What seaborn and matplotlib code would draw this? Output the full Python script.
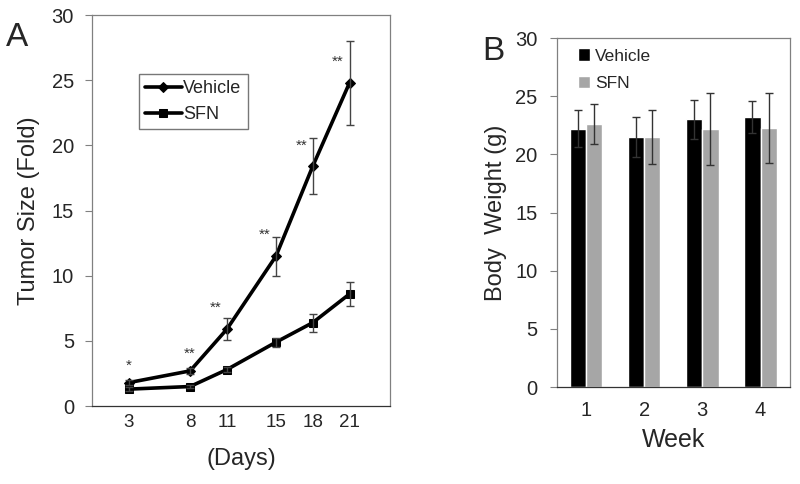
import numpy as np
import pandas as pd
import matplotlib
matplotlib.use("Agg")
import matplotlib.pyplot as plt
import seaborn as sns

# ------------------- Données -------------------
days = [3, 8, 11, 15, 18, 21]
vehicle_size = [1.8, 2.7, 5.9, 11.5, 18.4, 24.8]
vehicle_size_err = [0.2, 0.25, 0.85, 1.5, 2.15, 3.2]
sfn_size = [1.3, 1.5, 2.8, 4.9, 6.4, 8.6]
sfn_size_err = [0.15, 0.15, 0.2, 0.35, 0.7, 0.9]
stars = ["*", "**", "**", "**", "**", "**"]

weeks = ["1", "2", "3", "4"]
vehicle_weight = [22.2, 21.5, 23.0, 23.2]
vehicle_weight_err = [1.6, 1.75, 1.7, 1.4]
sfn_weight = [22.6, 21.5, 22.2, 22.3]
sfn_weight_err = [1.7, 2.3, 3.1, 3.0]

groups = ["Vehicle", "SFN"]

# ------------------- Style -------------------
sns.set_style("white")
plt.rcParams["font.family"] = ["Liberation Sans", "DejaVu Sans"]
frame_color = "#808080"

fig = plt.figure(figsize=(8, 4.84), dpi=100)
ax_a = fig.add_axes([0.115, 0.161, 0.3725, 0.808])
ax_b = fig.add_axes([0.696, 0.2004, 0.291, 0.721])

# ------------------- Panel A : taille des tumeurs -------------------
df_a = pd.DataFrame({
    "day": days * 2,
    "size": vehicle_size + sfn_size,
    "group": ["Vehicle"] * len(days) + ["SFN"] * len(days),
})
sns.lineplot(data=df_a, x="day", y="size", hue="group", style="group",
             hue_order=groups, style_order=groups,
             palette={"Vehicle": "black", "SFN": "black"},
             markers={"Vehicle": "D", "SFN": "s"}, dashes=False,
             linewidth=2.6, markersize=5.5, markeredgecolor="black",
             errorbar=None, ax=ax_a)
ax_a.errorbar(days, vehicle_size, yerr=vehicle_size_err, fmt="none",
              ecolor="#444444", elinewidth=1, capsize=3, capthick=1)
ax_a.errorbar(days, sfn_size, yerr=sfn_size_err, fmt="none",
              ecolor="#444444", elinewidth=1, capsize=3, capthick=1)

# astérisques de significativité
for d, v, e, s in zip(days, vehicle_size, vehicle_size_err, stars):
    ax_a.annotate(s, (d, v), xytext=(-4 if d > 10 else 0, 7 if d < 10 else 10),
                  textcoords="offset points", ha="right" if d > 10 else "center",
                  va="bottom", fontsize=11, color="#333333")

ax_a.set_xlim(0, 24.3)
ax_a.set_ylim(0, 30)
ax_a.set_xticks(days)
ax_a.set_xticklabels([str(d) for d in days], fontsize=13.5)
ax_a.set_yticks(range(0, 31, 5))
ax_a.tick_params(axis="y", labelsize=14.5, length=5, direction="out",
                 color=frame_color, left=True, pad=8)
ax_a.tick_params(axis="x", length=0, pad=6)
ax_a.set_xlabel("(Days)", fontsize=17, labelpad=12)
ax_a.set_ylabel("Tumor Size (Fold)", fontsize=17, labelpad=8)
for sp in ax_a.spines.values():
    sp.set_color(frame_color)
    sp.set_linewidth(0.9)
ax_a.spines["bottom"].set_color("#333333")

leg = ax_a.legend(loc="upper left", bbox_to_anchor=(0.158, 0.85),
                  borderaxespad=0, fontsize=13, frameon=True, fancybox=False,
                  handlelength=2.0, handletextpad=0.1, borderpad=0.35,
                  labelspacing=0.5)
leg.get_frame().set_edgecolor("#555555")
leg.get_frame().set_linewidth(1)
leg.set_title(None)

fig.text(0.008, 0.955, "A", fontsize=24, va="top", ha="left")

# ------------------- Panel B : poids corporel -------------------
df_b = pd.DataFrame({
    "week": weeks * 2,
    "weight": vehicle_weight + sfn_weight,
    "group": ["Vehicle"] * len(weeks) + ["SFN"] * len(weeks),
})
sns.barplot(data=df_b, x="week", y="weight", hue="group", hue_order=groups,
            palette={"Vehicle": "black", "SFN": "#a6a6a6"},
            width=0.56, errorbar=None, saturation=1, ax=ax_b)

# barres d'erreur au centre de chaque barre
for container, vals, errs in zip(ax_b.containers,
                                 [vehicle_weight, sfn_weight],
                                 [vehicle_weight_err, sfn_weight_err]):
    xs = [p.get_x() + p.get_width() / 2 for p in container.patches]
    ax_b.errorbar(xs, vals, yerr=errs, fmt="none", ecolor="#333333",
                  elinewidth=1, capsize=3, capthick=1)

ax_b.set_xlim(-0.5, 3.5)
ax_b.set_ylim(0, 30)
ax_b.set_yticks(range(0, 31, 5))
ax_b.tick_params(axis="y", labelsize=14.5, length=5, direction="out",
                 color=frame_color, left=True, pad=9)
ax_b.tick_params(axis="x", labelsize=14.5, length=0, pad=10)
ax_b.set_xlabel("Week", fontsize=18, labelpad=6)
ax_b.set_ylabel("Body  Weight (g)", fontsize=17, labelpad=6)
for sp in ax_b.spines.values():
    sp.set_color(frame_color)
    sp.set_linewidth(0.9)
ax_b.spines["bottom"].set_color("#333333")

leg_b = ax_b.legend(loc="upper left", bbox_to_anchor=(0.06, 0.99),
                    borderaxespad=0, fontsize=12.5, frameon=False,
                    handlelength=0.7, handleheight=0.7, handletextpad=0.3,
                    labelspacing=0.7)
leg_b.set_title(None)

fig.text(0.603, 0.925, "B", fontsize=24, va="top", ha="left")

fig.savefig("out.png", dpi=100)
